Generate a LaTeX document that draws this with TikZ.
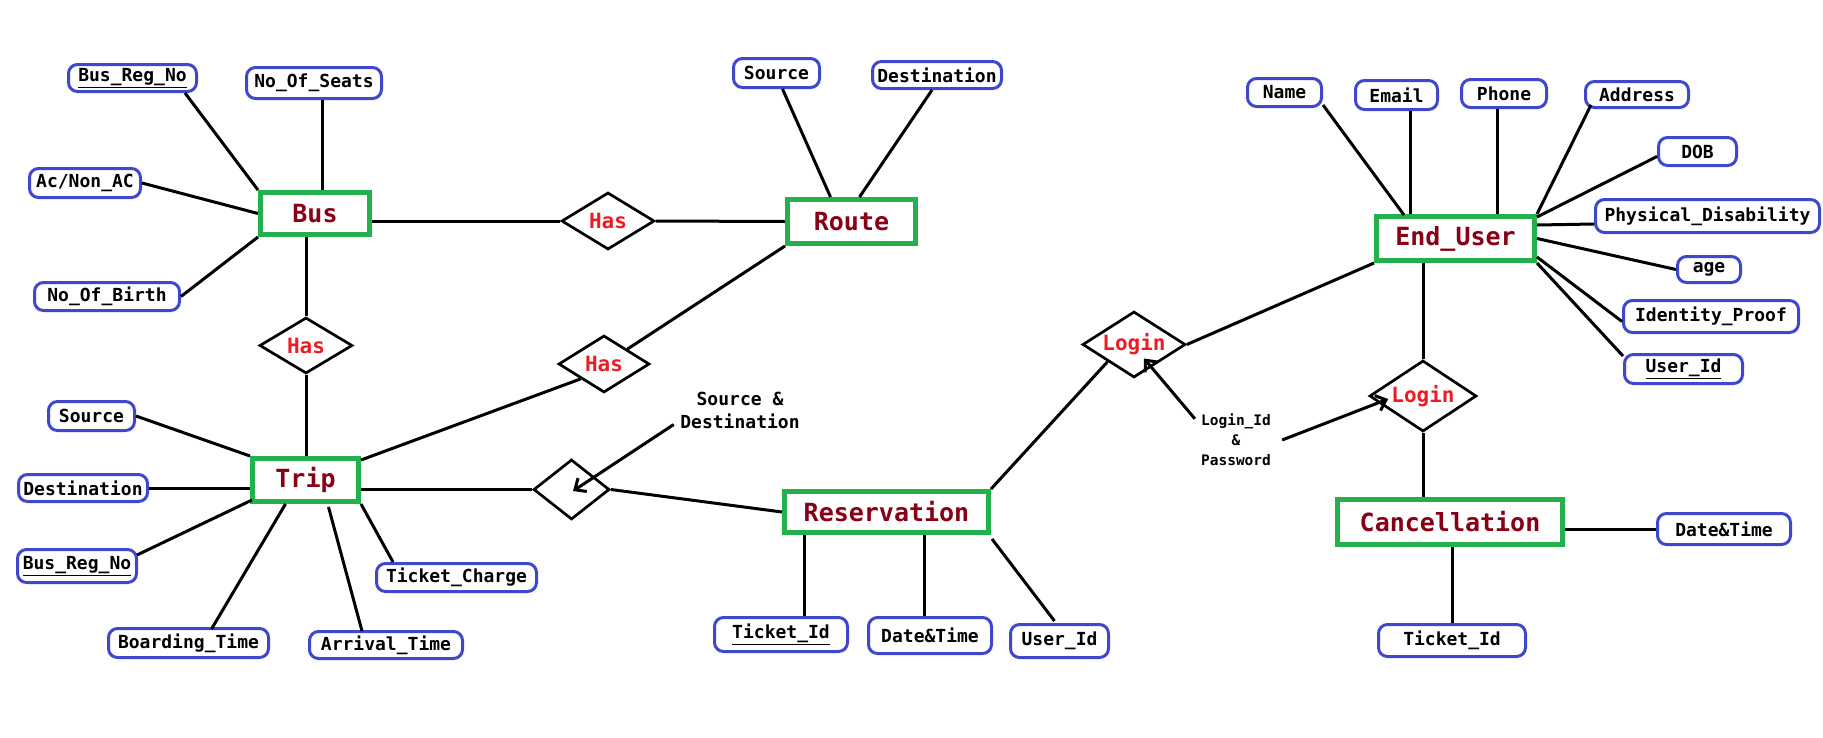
\documentclass[tikz,border=0pt]{standalone}
\usepackage{fontspec}
\usetikzlibrary{shapes.geometric,arrows.meta,calc}
\newfontfamily\mono{DejaVu Sans Mono}
\definecolor{pblue}{HTML}{3F48CC}
\definecolor{pgreen}{HTML}{22B14C}
\definecolor{pdred}{HTML}{880015}
\definecolor{pred}{HTML}{ED1C24}
\tikzset{
 attr/.style={draw=pblue, line width=3pt, rounded corners=9pt, inner sep=0pt, text=black,
   font=\mono\bfseries\fontsize{18}{20}\selectfont},
 ent/.style={draw=pgreen, line width=5pt, inner sep=0pt, text=pdred,
   font=\mono\bfseries\fontsize{25}{27}\selectfont},
 rel/.style={diamond, draw=black, line width=2.7pt, inner sep=0pt, aspect=1.6, text=pred,
   font=\mono\bfseries\fontsize{21}{23}\selectfont},
 lbl/.style={inner sep=0pt, align=center, text=black},
 conn/.style={line width=3pt, draw=black},
 arr/.style={conn, -{Straight Barb[length=9pt,width=16pt]}},
}
\begin{document}
\begin{tikzpicture}[x=1pt,y=-1pt]
\fill[white] (0,0) rectangle (1823,737);
\useasboundingbox (0,0) rectangle (1823,737);

% ---------- entities ----------
\node[ent, minimum width=109pt, minimum height=42pt] (bus) at (315,213.5) {Bus};
\node[ent, minimum width=106pt, minimum height=43pt] (trip) at (305.5,480) {Trip};
\node[ent, minimum width=128pt, minimum height=44pt] (route) at (851.5,221.5) {Route};
\node[ent, minimum width=204pt, minimum height=41pt] (res) at (886.5,512) {Reservation};
\node[ent, minimum width=158pt, minimum height=44pt] (enduser) at (1455.5,238.5) {End\_User};
\node[ent, minimum width=225pt, minimum height=45pt] (cancel) at (1450,522) {Cancellation};

% ---------- relationships ----------
\node[rel, minimum width=93pt, minimum height=57pt] (has1) at (608,221) {Has};
\node[rel, minimum width=93pt, minimum height=56pt] (has2) at (306,345.5) {Has};
\node[rel, minimum width=91pt, minimum height=57pt] (has3) at (604,364) {Has};
\node[rel, minimum width=76pt, minimum height=60pt] (sd) at (571.5,489.5) {};
\node[rel, minimum width=103pt, minimum height=66pt] (login1) at (1134,344.5) {Login};
\node[rel, minimum width=107pt, minimum height=71pt] (login2) at (1423,396) {Login};

% ---------- attributes ----------
\node[attr, minimum width=128pt, minimum height=27pt] (b_reg) at (132.5,78) {\underline{Bus\_Reg\_No}};
\node[attr, minimum width=135pt, minimum height=31pt] (b_seats) at (314,83) {No\_Of\_Seats};
\node[attr, minimum width=111pt, minimum height=29pt] (b_ac) at (85,183) {Ac/Non\_AC};
\node[attr, minimum width=145pt, minimum height=28pt] (b_birth) at (107,296.5) {No\_Of\_Birth};

\node[attr, minimum width=86pt, minimum height=29pt] (t_src) at (91.5,416) {Source};
\node[attr, minimum width=129pt, minimum height=27pt] (t_dst) at (83,488) {Destination};
\node[attr, minimum width=119pt, minimum height=33pt] (t_reg) at (77,566) {\underline{Bus\_Reg\_No}};
\node[attr, minimum width=160pt, minimum height=29pt] (t_board) at (188.5,643) {Boarding\_Time};
\node[attr, minimum width=153pt, minimum height=27pt] (t_arr) at (386,645) {Arrival\_Time};
\node[attr, minimum width=160pt, minimum height=28pt] (t_charge) at (456.5,577.5) {Ticket\_Charge};

\node[attr, minimum width=86pt, minimum height=29pt] (r_src) at (776.5,73) {Source};
\node[attr, minimum width=129pt, minimum height=27pt] (r_dst) at (937,75) {Destination};

\node[attr, minimum width=133pt, minimum height=34pt] (res_tid) at (781,634.5) {\underline{Ticket\_Id}};
\node[attr, minimum width=123pt, minimum height=36pt] (res_dt) at (930,635.5) {Date\&Time};
\node[attr, minimum width=98pt, minimum height=33pt] (res_uid) at (1059.5,641) {User\_Id};

\node[attr, minimum width=74pt, minimum height=28pt] (u_name) at (1284.5,92.5) {Name};
\node[attr, minimum width=82pt, minimum height=29pt] (u_email) at (1396.5,95) {Email};
\node[attr, minimum width=85pt, minimum height=28pt] (u_phone) at (1504,93.5) {Phone};
\node[attr, minimum width=103pt, minimum height=26pt] (u_addr) at (1637,94.5) {Address};
\node[attr, minimum width=78pt, minimum height=28pt] (u_dob) at (1697.5,151.5) {DOB};
\node[attr, minimum width=224pt, minimum height=33pt] (u_phys) at (1707.5,216) {Physical\_Disability};
\node[attr, minimum width=63pt, minimum height=26pt] (u_age) at (1709,269.5) {age};
\node[attr, minimum width=175pt, minimum height=32pt] (u_idp) at (1711,316.5) {Identity\_Proof};
\node[attr, minimum width=118pt, minimum height=29pt] (u_uid) at (1683.5,369) {\underline{User\_Id}};

\node[attr, minimum width=133pt, minimum height=31pt] (c_dt) at (1724,529) {Date\&Time};
\node[attr, minimum width=147pt, minimum height=32pt] (c_tid) at (1452,640.5) {Ticket\_Id};

% ---------- labels ----------
\node[lbl, font=\mono\bfseries\fontsize{18}{23}\selectfont] (sdlabel) at (740,410) {Source \&\\Destination};
\node[lbl, font=\mono\bfseries\fontsize{14.5}{20}\selectfont] (loginlabel) at (1236,440) {Login\_Id\\\&\\Password};

% ---------- connectors: Bus ----------
\draw[conn] ($(b_reg.south east)+(-13,0)$) -- (bus.north west);
\draw[conn] ($(b_seats.south)+(8,0)$) -- ($(bus.north)+(7,0)$);
\draw[conn] (b_ac.east) -- (bus.west);
\draw[conn] (b_birth.east) -- (bus.south west);
\draw[conn] (bus.east |- has1.west) -- (has1.west);
\draw[conn] (has1.east) -- (route.west);
\draw[conn] (has2.north |- bus.south) -- (has2.north);
\draw[conn] (has2.south) -- (has2.south |- trip.north);

% ---------- connectors: Route ----------
\draw[conn] ($(r_src.south)+(6,0)$) -- ($(route.north)+(-21,0)$);
\draw[conn] ($(r_dst.south)+(-5,0)$) -- ($(route.north)+(8,0)$);
\draw[conn] (has3.north east) -- (route.south west);

% ---------- connectors: Trip ----------
\draw[conn] (t_src.east) -- (trip.north west);
\draw[conn] (t_dst.east) -- (t_dst.east -| trip.west);
\draw[conn] ($(t_reg.east)+(-1,-11)$) -- ($(trip.south west)+(2,-4)$);
\draw[conn] ($(t_board.north)+(23,2)$) -- ($(trip.south)+(-20,0)$);
\draw[conn] ($(t_arr.north)+(-24,1)$) -- ($(trip.south)+(23,3)$);
\draw[conn] ($(t_charge.north west)+(18,0)$) -- (trip.south east);
\draw[conn] ($(trip.north east)+(0,4)$) -- (has3.south west);
\draw[conn] (sd.west -| trip.east) -- (sd.west);

% ---------- connectors: Reservation ----------
\draw[conn] (res.west) -- (sd.east);
\draw[arr] ($(sdlabel.south west)+(-6.5,-4)$) -- ($(sd.center)+(1.5,1.5)$);
\draw[conn] ($(res.south west)+(22,0)$) coordinate (rt) -- (rt |- res_tid.north);
\draw[conn] ($(res.south)+(38,0)$) coordinate (rd) -- (rd |- res_dt.north);
\draw[conn] ($(res.south east)+(1,4)$) -- ($(res_uid.north)+(-5,-2)$);
\draw[conn] (res.north east) -- (login1.south west);

% ---------- connectors: End_User ----------
\draw[conn] (login1.east) -- (enduser.south west);
\draw[conn] (login2.north |- enduser.south) -- (login2.north);
\draw[conn] (login2.south) -- (login2.south |- cancel.north);
\draw[conn] ($(u_name.south east)+(0,-3)$) -- ($(enduser.north west)+(30,1)$);
\draw[conn] ($(u_email.south)+(14,0)$) coordinate (ue) -- (ue |- enduser.north);
\draw[conn] ($(u_phone.south)+(-7,0)$) coordinate (up) -- (up |- enduser.north);
\draw[conn] ($(u_addr.south west)+(7,-4)$) -- (enduser.north east);
\draw[conn] ($(u_dob.west)+(0,5)$) -- ($(enduser.north east)+(0,3)$);
\draw[conn] ($(enduser.north east)+(0,11)$) -- ($(u_phys.west)+(0,8)$);
\draw[conn] (enduser.east) -- (u_age.west);
\draw[conn] ($(enduser.south east)+(0,-6)$) -- ($(u_idp.west)+(0,5)$);
\draw[conn] (enduser.south east) -- ($(u_uid.north west)+(0,3)$);
\draw[arr] ($(loginlabel.north west)+(-6,5)$) -- ($(login1.center)+(10,14)$);
\draw[arr] ($(loginlabel.east)+(11,0)$) -- ($(login2.west)+(20,3)$);

% ---------- connectors: Cancellation ----------
\draw[conn] (c_dt.west -| cancel.east) -- (c_dt.west);
\draw[conn] (c_tid.north |- cancel.south) -- (c_tid.north);
\end{tikzpicture}
\end{document}
